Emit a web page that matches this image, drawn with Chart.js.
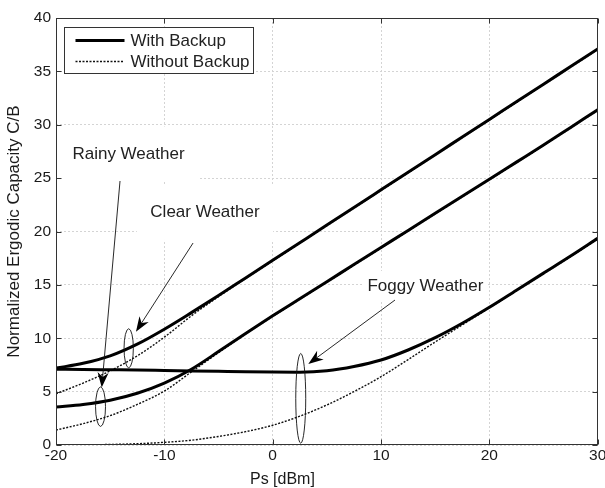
<!DOCTYPE html>
<html>
<head>
<meta charset="utf-8">
<script src="https://cdn.jsdelivr.net/npm/chart.js@4.4.1/dist/chart.umd.min.js"></script>
<style>
  html, body { margin: 0; padding: 0; background: #fff; }
</style>
</head>
<body>
<canvas id="miCanva" width="605" height="488"></canvas>
<script>
// Ps [dBm] samples
const psDbm = [-20, -17.5, -15, -12.5, -10, -7.5, -5, -2.5, 0, 2.5, 5, 7.5, 10, 12.5, 15, 17.5, 20, 22.5, 25, 27.5, 30];

// normalized ergodic capacity C/B
const clearWithBackup    = [7.2, 7.65, 8.35, 9.45, 10.85, 12.4, 14.0, 15.65, 17.3, 18.95, 20.6, 22.25, 23.9, 25.55, 27.2, 28.85, 30.5, 32.15, 33.8, 35.45, 37.1];
const clearWithoutBackup = [4.8, 5.8, 6.95, 8.35, 10.1, 12.1, 13.9, 15.6, 17.25, 18.9, 20.55, 22.2, 23.85, 25.5, 27.15, 28.8, 30.45, 32.1, 33.75, 35.4, 37.05];
const rainyWithBackup    = [3.55, 3.8, 4.2, 4.85, 5.8, 7.1, 8.75, 10.45, 12.1, 13.7, 15.3, 16.9, 18.5, 20.1, 21.7, 23.3, 24.9, 26.5, 28.1, 29.75, 31.4];
const rainyWithoutBackup = [1.4, 2.0, 2.75, 3.8, 5.05, 6.85, 8.65, 10.4, 12.05, 13.65, 15.25, 16.85, 18.45, 20.05, 21.65, 23.25, 24.85, 26.45, 28.05, 29.7, 31.35];
const foggyWithBackup    = [7.1, 7.08, 7.05, 7.02, 6.98, 6.94, 6.9, 6.86, 6.83, 6.82, 6.95, 7.35, 7.96, 8.9, 10.05, 11.4, 12.9, 14.5, 16.1, 17.7, 19.36];
const foggyWithoutBackup = [0.0, 0.02, 0.05, 0.12, 0.25, 0.45, 0.8, 1.25, 1.85, 2.7, 3.75, 5.0, 6.4, 8.0, 9.65, 11.25, 12.85, 14.45, 16.05, 17.65, 19.3];

const legendLabels = ["With Backup", "Without Backup"];
const xTitle = "Ps [dBm]";
const yTitle = "Normalized Ergodic Capacity C/B";

// weather notes: label centre, arrow start -> tip, ellipse (all in data units)
const weatherNotes = [
  { text: "Rainy Weather", x: -13.31, y: 27.26, padX: 13.5, halfH: 27.5,
    from: [-14.09, 24.73], tip: [-15.78, 5.39], ell: [-15.89, 3.59, 0.46, 1.85] },
  { text: "Clear Weather", x: -6.25, y: 21.83, padX: 13.5, halfH: 28,
    from: [-7.35, 18.92], tip: [-12.62, 10.61], ell: [-13.29, 9.06, 0.43, 1.83] },
  { text: "Foggy Weather", x: 14.1, y: 14.9, padX: 4, halfH: 15,
    from: [11.29, 13.58], tip: [3.29, 7.59], ell: [2.59, 4.37, 0.46, 4.2] },
];

const FONT = "'Liberation Sans', Arial, sans-serif";
const INK = "#1a1a1a";

const pts = (ys) => psDbm.map((x, i) => ({ x: x, y: ys[i] }));
const solid = (ys) => ({ data: pts(ys), borderColor: "#000", borderWidth: 3, pointRadius: 0, cubicInterpolationMode: "monotone", fill: false });
const dotted = (ys) => ({ data: pts(ys), borderColor: "#111", borderWidth: 1.4, borderDash: [2, 1.5], pointRadius: 0, cubicInterpolationMode: "monotone", fill: false });

function drawArrow(ctx, x0, y0, x1, y1) {
  const a = Math.atan2(y1 - y0, x1 - x0);
  const len = 15, half = 5.5, notch = 0.7;
  const cx = x1 - Math.cos(a) * len * notch, cy = y1 - Math.sin(a) * len * notch;
  ctx.beginPath();
  ctx.moveTo(x0, y0);
  ctx.lineTo(cx, cy);
  ctx.stroke();
  const bx = x1 - Math.cos(a) * len, by = y1 - Math.sin(a) * len;
  const nx = -Math.sin(a), ny = Math.cos(a);
  ctx.beginPath();
  ctx.moveTo(x1, y1);
  ctx.lineTo(bx + nx * half, by + ny * half);
  ctx.lineTo(cx, cy);
  ctx.lineTo(bx - nx * half, by - ny * half);
  ctx.closePath();
  ctx.fill();
}

const decor = {
  id: "decor",
  beforeDatasetsDraw(chart) {
    const { ctx, scales: { x, y } } = chart;
    ctx.save();
    ctx.font = `17px ${FONT}`;
    ctx.fillStyle = "#fff";
    weatherNotes.forEach(n => {
      const cx = x.getPixelForValue(n.x), cy = y.getPixelForValue(n.y);
      const w = ctx.measureText(n.text).width / 2 + n.padX;
      ctx.fillRect(cx - w, cy - n.halfH, 2 * w, 2 * n.halfH);
    });
    ctx.restore();
  },
  afterDatasetsDraw(chart) {
    const { ctx, chartArea: a, scales: { x, y } } = chart;
    ctx.save();

    // notes: text, arrows, ellipses
    ctx.font = `17px ${FONT}`;
    ctx.textAlign = "center";
    ctx.textBaseline = "middle";
    ctx.strokeStyle = "#111";
    ctx.lineWidth = 0.9;
    weatherNotes.forEach(n => {
      ctx.fillStyle = "#222";
      ctx.fillText(n.text, x.getPixelForValue(n.x), y.getPixelForValue(n.y));
      ctx.fillStyle = "#000";
      drawArrow(ctx, x.getPixelForValue(n.from[0]), y.getPixelForValue(n.from[1]),
                x.getPixelForValue(n.tip[0]), y.getPixelForValue(n.tip[1]));
      const ex = x.getPixelForValue(n.ell[0]), ey = y.getPixelForValue(n.ell[1]);
      const rx = Math.abs(x.getPixelForValue(n.ell[0] + n.ell[2]) - ex);
      const ry = Math.abs(y.getPixelForValue(n.ell[1] + n.ell[3]) - ey);
      ctx.beginPath();
      ctx.ellipse(ex, ey, rx, ry, 0, 0, Math.PI * 2);
      ctx.stroke();
    });

    // box + inner ticks
    ctx.strokeStyle = "#333";
    ctx.lineWidth = 1;
    const L = Math.round(a.left) + 0.5, R = Math.round(a.right) - 0.5;
    const T = Math.round(a.top) + 0.5, B = Math.round(a.bottom) - 0.5;
    ctx.strokeRect(L, T, R - L, B - T);
    ctx.beginPath();
    x.ticks.forEach(t => {
      const px = Math.round(x.getPixelForValue(t.value)) + 0.5;
      ctx.moveTo(px, B); ctx.lineTo(px, B - 5);
      ctx.moveTo(px, T); ctx.lineTo(px, T + 5);
    });
    y.ticks.forEach(t => {
      const py = Math.round(y.getPixelForValue(t.value)) + 0.5;
      ctx.moveTo(L, py); ctx.lineTo(L + 5, py);
      ctx.moveTo(R, py); ctx.lineTo(R - 5, py);
    });
    ctx.stroke();

    // legend
    const lx = Math.round(a.left) + 8.5, ly = Math.round(a.top) + 9.5;
    ctx.fillStyle = "#fff";
    ctx.fillRect(lx, ly, 189, 46);
    ctx.strokeStyle = "#333";
    ctx.strokeRect(lx, ly, 189, 46);
    ctx.font = `17px ${FONT}`;
    ctx.textAlign = "left";
    legendLabels.forEach((lab, i) => {
      const ry = ly + 13 + i * 21;
      const ds = chart.data.datasets[i === 0 ? 0 : 3];
      ctx.strokeStyle = ds.borderColor;
      ctx.lineWidth = ds.borderWidth;
      ctx.setLineDash(ds.borderDash || []);
      ctx.beginPath();
      ctx.moveTo(lx + 11, ry); ctx.lineTo(lx + 60, ry);
      ctx.stroke();
      ctx.setLineDash([]);
      ctx.fillStyle = "#222";
      ctx.fillText(lab, lx + 66, ry + 1);
    });

    // x axis title
    ctx.font = `16px ${FONT}`;
    ctx.textAlign = "center";
    ctx.fillStyle = INK;
    ctx.fillText(xTitle, x.getPixelForValue(0.9), 480);
    ctx.restore();
  }
};

new Chart(document.getElementById("miCanva").getContext("2d"), {
  type: "line",
  data: {
    datasets: [
      solid(clearWithBackup),
      solid(rainyWithBackup),
      solid(foggyWithBackup),
      dotted(clearWithoutBackup),
      dotted(rainyWithoutBackup),
      dotted(foggyWithoutBackup),
    ],
  },
  options: {
    responsive: false,
    animation: false,
    layout: { padding: { top: 18, right: 7.3, left: 0, bottom: 0 } },
    plugins: { legend: { display: false }, tooltip: { enabled: false } },
    scales: {
      x: {
        type: "linear", min: -20, max: 30,
        ticks: { stepSize: 10, color: INK, padding: 1, maxRotation: 0, font: { family: FONT, size: 15.5 } },
        grid: { color: "#d4d4d4", lineWidth: 1, drawTicks: false },
        border: { display: false, dash: [2, 2] },
        afterFit: (s) => { s.height = 43; s.paddingLeft = 0; s.paddingRight = 0; },
      },
      y: {
        min: 0, max: 40,
        ticks: { stepSize: 5, color: INK, padding: 5, font: { family: FONT, size: 15.5 } },
        grid: { color: "#d4d4d4", lineWidth: 1, drawTicks: false },
        border: { display: false, dash: [2, 2] },
        title: { display: true, text: yTitle, color: INK, padding: { top: 4, bottom: 0 }, font: { family: FONT, size: 17 } },
        afterFit: (s) => { s.width = 56; s.paddingTop = 0; s.paddingBottom = 0; },
      },
    },
  },
  plugins: [decor],
});
</script>
</body>
</html>
